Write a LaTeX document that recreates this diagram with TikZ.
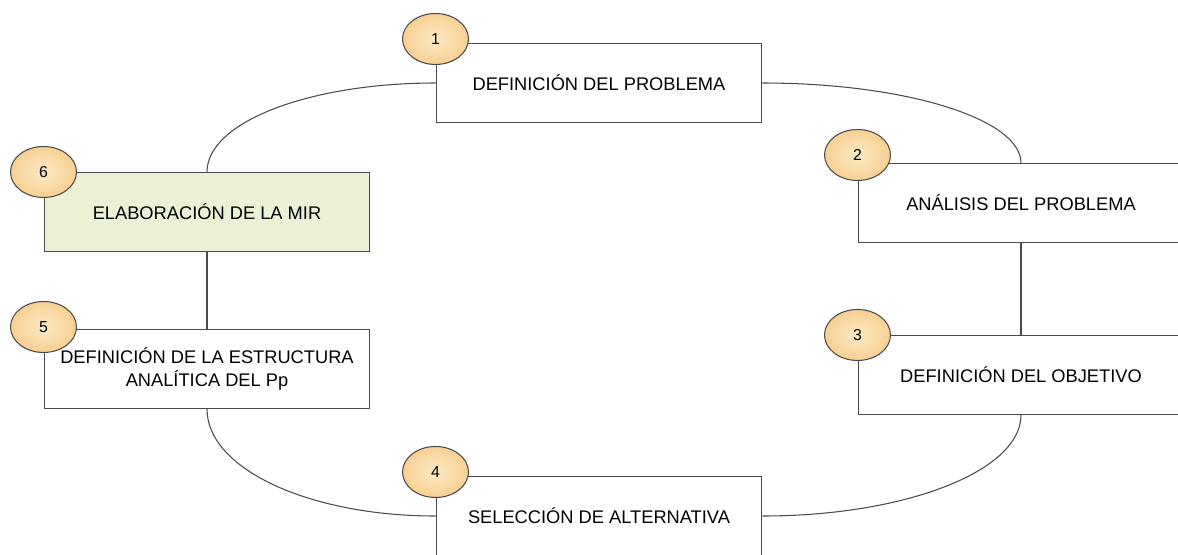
\documentclass[tikz,border=0pt]{standalone}
\usepackage{fontspec}
\setmainfont{Liberation Sans}
\usepackage{xcolor}
\definecolor{badgeFill}{HTML}{F7CF92}
\definecolor{badgeLight}{HTML}{FCEAC6}
\definecolor{mirFill}{HTML}{EAF1D4}
\definecolor{lineGray}{HTML}{4A4A4A}
\usepackage{tikz}
\usetikzlibrary{%
    shapes,
    shapes.geometric,
    positioning,
    calc
}

\begin{document}
\begin{tikzpicture}[x=0.02cm, y=-0.02cm,
                stage/.style={rectangle, minimum width=6.52cm, minimum height=1.58cm, text centered, fill=white, draw=lineGray, line width=0.6pt, align=center, font=\fontsize{10.4}{13}\selectfont},
                mir/.style={stage, fill=mirFill},
                badge/.style={ellipse, minimum width=1.32cm, minimum height=1.02cm, inner sep=0pt, draw=lineGray, line width=0.6pt, inner color=badgeLight, outer color=badgeFill, font=\fontsize{9}{10}\selectfont},
                link/.style={draw=lineGray, line width=0.6pt}
            ]
            \useasboundingbox (0,0) rectangle (1178,555);

            \node (prob) at (599,83) [stage] {DEFINICIÓN DEL PROBLEMA};
            \node (anal) at (1021,203) [stage] {ANÁLISIS DEL PROBLEMA};
            \node (obj) at (1021,375) [stage] {DEFINICIÓN DEL OBJETIVO};
            \node (alt) at (599,516) [stage] {SELECCIÓN DE ALTERNATIVA};
            \node (estr) at (207,369) [stage] {DEFINICIÓN DE LA ESTRUCTURA \\ ANALÍTICA DEL Pp};
            \node (mir) at (207,212) [mir] {ELABORACIÓN DE LA MIR};

            % quarter ellipses between the boxes
            \draw [link] (prob.west) .. controls +(-126,0) and +(0,-50) .. (mir.north);
            \draw [link] (prob.east) .. controls +(143,0) and +(0,-44) .. (anal.north);
            \draw [link] (anal.south) -- (obj.north);
            \draw [link] (obj.south) .. controls +(0,56) and +(143,0) .. (alt.east);
            \draw [link] (estr.south) .. controls +(0,60) and +(-126,0) .. (alt.west);
            \draw [link] (mir.south) -- (estr.north);

            \node (n1) at ($(prob.north west)+(0,-4)$) [badge] {1};
            \node (n2) at ($(anal.north west)+(0,-8)$) [badge] {2};
            \node (n3) at ($(obj.north west)+(0,0)$) [badge] {3};
            \node (n4) at ($(alt.north west)+(0,-4)$) [badge] {4};
            \node (n5) at ($(estr.north west)+(0,-2)$) [badge] {5};
            \node (n6) at ($(mir.north west)+(0,0)$) [badge] {6};
\end{tikzpicture}
\end{document}
